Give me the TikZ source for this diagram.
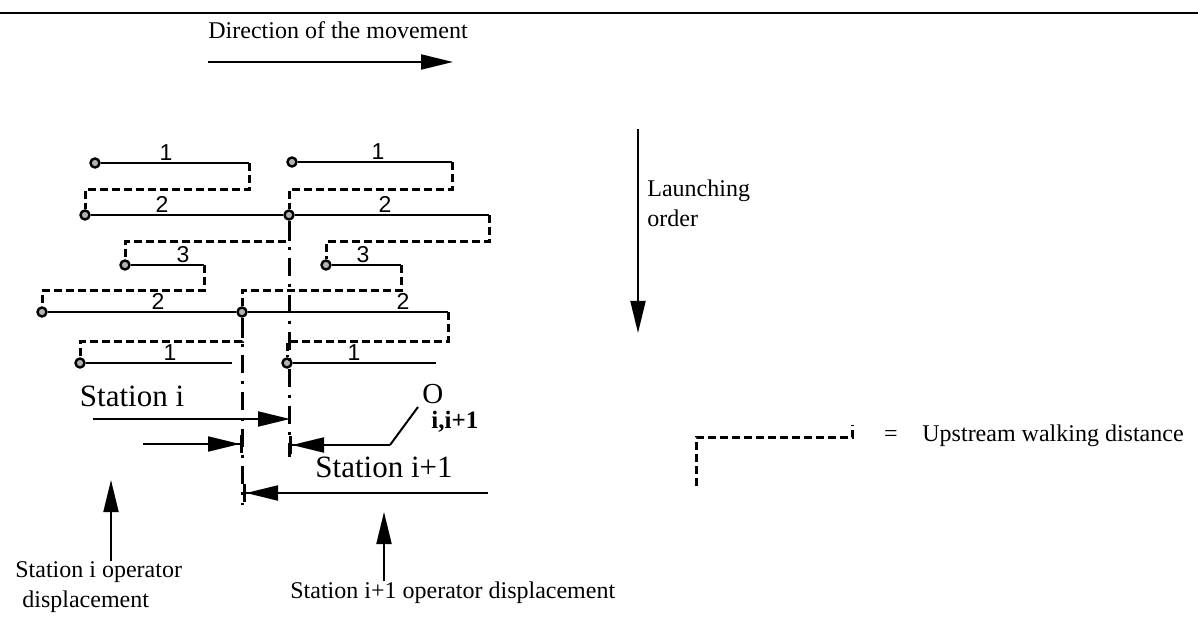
\documentclass[tikz,border=0pt]{standalone}
\usepackage{fontspec}
\setmainfont{Liberation Serif}
\newfontfamily\digitfont{Liberation Sans}
\usetikzlibrary{arrows.meta,calc}

\tikzset{
    bar/.style={line width=1.1pt},
    walk/.style={line width=1.5pt, dash pattern=on 4pt off 2pt},
    start/.style={circle, draw, line width=1.2pt, fill=gray!60, inner sep=0pt, minimum size=4.5pt},
    num/.style={font=\digitfont\fontsize{11.5}{11.5}\selectfont, inner sep=0pt, anchor=base},
    limit/.style={line width=1.5pt, dash pattern=on 9pt off 4pt on 1.5pt off 4pt},
    move/.style={line width=1pt, -{Triangle[length=16pt,width=7.5pt]}},
    movebar/.style={line width=1pt, -{Triangle[length=16pt,width=7.5pt]Bar[width=9pt,line width=1.5pt]}},
    lbl/.style={font=\fontsize{12}{15}\selectfont, inner sep=0pt, anchor=base west},
    big/.style={font=\fontsize{15.5}{18}\selectfont}
}

\begin{document}
\begin{tikzpicture}[x=0.5pt,y=-0.5pt]
\useasboundingbox (0,0) rectangle (1198,624);

% Top rule
\draw[line width=1pt] (0,13) -- (1198,13);

% Direction of the movement
\node[lbl] (dirtext) at (208,39) {Direction of the movement};
\coordinate (dirA) at (208,62);
\coordinate (dirB) at (453,62);
\draw[move] (dirA) -- (dirB);

% Launching order
\coordinate (lo1) at (638,129);
\coordinate (lo2) at (638,333);
\draw[move] (lo1) -- (lo2);
\node[lbl] (launch) at (647,197) {Launching};
\node[lbl] (order) at (647,227) {order};

% Station i starts
\node[start] (l1) at (95,163) {};  \coordinate (l1e) at (249,163);
\node[start] (l2) at (85,215) {};
\node[start] (l3) at (125,265) {}; \coordinate (l3e) at (204,265);
\node[start] (l4) at (42,312) {};
\node[start] (l5) at (80,363) {};  \coordinate (l5e) at (232,363);

% Station i+1 starts
\node[start] (r1) at (292,162) {}; \coordinate (r1e) at (452,162);
\node[start] (r2) at (289,215) {}; \coordinate (r2e) at (489,215);
\node[start] (r3) at (326,265) {}; \coordinate (r3e) at (401,265);
\node[start] (r4) at (242,312) {}; \coordinate (r4e) at (448,312);
\node[start] (r5) at (287,363) {}; \coordinate (r5e) at (436,363);

% Station limits
\coordinate (rlim) at (289,457);
\coordinate (llim) at (242,505);
\draw[limit] (r2) -- (rlim);
\draw[limit] (r4) -- (llim);

% Upstream walks
\draw[walk] (l1e) -- ++(0,27) -| (l2);
\draw[walk] (r2) -- ++(0,27) -| (l3);
\draw[walk] (l3e) -- ++(0,26) -| (l4);
\draw[walk] (r4) -- ++(0,30) -| (l5);
\draw[walk] (r1e) -- ++(0,28) -| (r2);
\draw[walk] (r2e) -- ++(0,27) -| (r3);
\draw[walk] (r3e) -- ++(0,26) -| (r4);
\draw[walk] (r4e) -- ++(0,30) -| (r5);

% Work content
\draw[bar] (l1) -- (l1e);
\draw[bar] (l2) -- (r2);
\draw[bar] (l3) -- (l3e);
\draw[bar] (l4) -- (r4);
\draw[bar] (l5) -- (l5e);
\draw[bar] (r1) -- (r1e);
\draw[bar] (r2) -- (r2e);
\draw[bar] (r3) -- (r3e);
\draw[bar] (r4) -- (r4e);
\draw[bar] (r5) -- (r5e);

% Models
\node[num] (m11) at (166,161) {1};
\node[num] (m12) at (162,213) {2};
\node[num] (m13) at (183,263) {3};
\node[num] (m14) at (158,310) {2};
\node[num] (m15) at (170,361) {1};
\node[num] (m21) at (378,160) {1};
\node[num] (m22) at (385,213) {2};
\node[num] (m23) at (363,263) {3};
\node[num] (m24) at (403,310) {2};
\node[num] (m25) at (354,361) {1};

% Stations
\node[big] (sti) at (132,396) {Station i};
\node[big] (stj) at (384,467) {Station i+1};

\coordinate (a1s) at (93,419);
\coordinate (a1e) at (290,419);
\draw[move] (a1s) -- (a1e);
\coordinate (a2s) at (143,444);
\coordinate (a2e) at (243,444);
\draw[movebar] (a2s) -- (a2e);
\coordinate (b1s) at (488,493);
\coordinate (b1e) at (243,493);
\draw[movebar] (b1s) -- (b1e);

% Overlap
\node[font=\fontsize{14.5}{16}\selectfont, inner sep=0pt, anchor=south west] (oij) at (422,404) {O};
\node[font=\fontsize{12.5}{14}\selectfont\bfseries, inner sep=0pt, anchor=north west] (oijsub) at (431,411) {i,i+1};
\coordinate (okink) at (390,445);
\coordinate (oend) at (289,445);
\draw[line width=1pt] ($(oij.south west)+(-4,3)$) -- (okink);
\draw[movebar] (okink) -- (oend);

% Operator displacements
\node[lbl] (opi1) at (15,577) {Station i operator};
\node[lbl] (opi2) at (22,607) {displacement};
\coordinate (opitip) at (111,480);
\draw[move] (opi1.north -| opitip) -- (opitip);
\node[lbl] (opj) at (290,598) {Station i+1 operator displacement};
\coordinate (opjtip) at (384,512);
\draw[move] (opj.north -| opjtip) -- (opjtip);

% Legend
\coordinate (lg1) at (696,486);
\coordinate (lg2) at (852,425);
\draw[walk] (lg1) -- ++(0,-48) -| (lg2);
\node[font=\fontsize{12}{15}\selectfont] (eq) at (891,436) {=};
\node[lbl] (upw) at (922,442) {Upstream walking distance};

\end{tikzpicture}
\end{document}
